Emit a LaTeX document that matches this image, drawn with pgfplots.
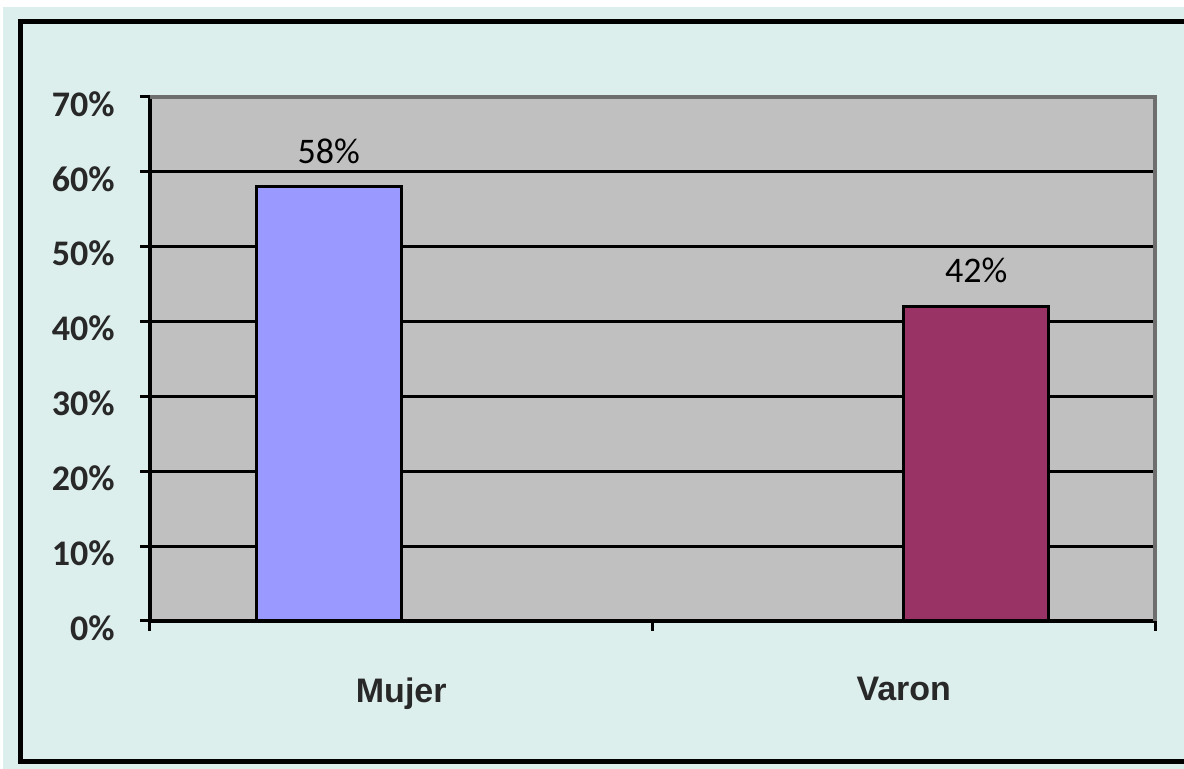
\documentclass[border=0pt]{standalone}
\usepackage{pgfplots}
\pgfplotsset{compat=1.18}
\usepackage{fontspec}
\setmainfont{Carlito}
\newfontfamily\arialfont{Liberation Sans}
\definecolor{bgc}{RGB}{220,239,236}
\definecolor{plotbg}{RGB}{192,192,192}
\definecolor{mujer}{RGB}{153,153,255}
\definecolor{varon}{RGB}{153,51,102}
\definecolor{bordergray}{RGB}{110,110,110}
\definecolor{labelc}{RGB}{40,40,40}
\begin{document}
\begin{tikzpicture}
\useasboundingbox (0,0) rectangle (592pt,384.5pt);
\clip (0,0) rectangle (592pt,384.5pt);
\fill[white] (0,0) rectangle (600pt,384.5pt);
\fill[bgc] (1.5pt,-5pt) rectangle (600pt,381pt);
\draw[black, line width=2.5pt] (600pt,373.5pt) -- (10pt,373.5pt) -- (10pt,3.5pt) -- (600pt,3.5pt);
\begin{axis}[
  at={(75pt,74pt)}, anchor=south west,
  scale only axis, width=502.5pt, height=262pt,
  xmin=-0.5, xmax=1.5, ymin=0, ymax=70,
  axis x line*=bottom, axis y line*=left,
  axis line style={black, line width=2pt},
  axis background/.style={fill=plotbg},
  ytick={0,10,...,70},
  yticklabels={0\%,10\%,20\%,30\%,40\%,50\%,60\%,70\%},
  yticklabel style={font=\bfseries\fontsize{18}{20}\selectfont, text=labelc, inner sep=0pt, xshift=-12.5pt, yshift=-3.5pt},
  xtick={-0.5,0.5,1.5}, xticklabels={},
  extra x ticks={0,1}, extra x tick labels={Mujer,Varon},
  extra x tick style={major tick length=0pt, tick label style={font=\arialfont\bfseries\fontsize{17}{20}\selectfont, text=labelc, anchor=north, inner sep=0pt, yshift=-28pt}},
  tick align=outside, major tick length=5pt,
  tick style={black, line width=1.5pt},
  ymajorgrids, major grid style={black, line width=1.5pt},
  ybar, bar width=72.5pt,
  nodes near coords={\pgfmathprintnumber[assume math mode=true]{\pgfplotspointmeta}\%},
  every node near coord/.append style={font=\fontsize{18}{20}\selectfont, text=black, inner sep=0pt, yshift=11pt, anchor=south},
  clip=false,
]
\addplot[fill=mujer, draw=black, line width=1.5pt, bar shift=-36.25pt] coordinates {(0,58)};
\addplot[fill=varon, draw=black, line width=1.5pt, bar shift=36.25pt] coordinates {(1,42)};
\draw[bordergray, line width=2pt] (rel axis cs:0,1) -- (rel axis cs:1,1) -- (rel axis cs:1,0);
\end{axis}
\end{tikzpicture}
\end{document}
